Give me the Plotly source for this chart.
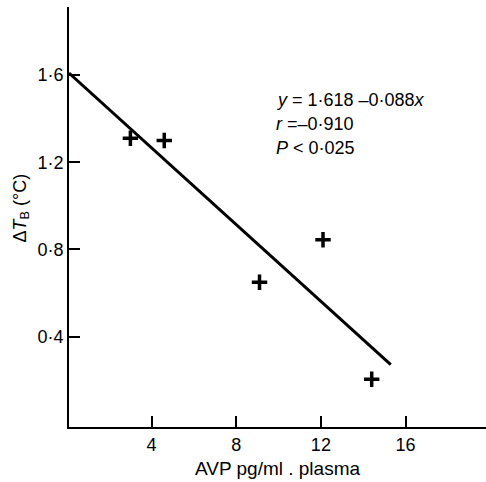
import plotly.graph_objects as go

# Data
avp = [3.0, 4.6, 9.1, 12.1, 14.4]
delta_tb = [1.31, 1.30, 0.65, 0.845, 0.205]

intercept = 1.618
slope = -0.088
line_x = [0.1, 15.3]
line_y = [intercept + slope * v for v in line_x]

x_ticks = [4, 8, 12, 16]
x_ticktext = ["4", "8", "12", "16"]
y_ticks = [0.4, 0.8, 1.2, 1.6]
y_ticktext = ["0·4", "0·8", "1·2", "1·6"]

font_family = "Liberation Sans, Arial, sans-serif"

fig = go.Figure()
fig.add_trace(go.Scatter(x=line_x, y=line_y, mode="lines",
                         line=dict(color="black", width=3), showlegend=False,
                         hoverinfo="skip"))
fig.add_trace(go.Scatter(x=avp, y=delta_tb, mode="markers",
                         marker=dict(symbol="cross-thin-open", size=11, color="black",
                                     line=dict(color="black", width=3.5)),
                         showlegend=False))

fig.update_layout(
    width=486, height=482,
    margin=dict(l=69, r=0, t=7, b=55),
    paper_bgcolor="white", plot_bgcolor="white",
    font=dict(family=font_family, size=18, color="black"),
    xaxis=dict(range=[0.1, 19.8], showline=True, linecolor="black", linewidth=2,
               showgrid=False, zeroline=False, ticks="inside", ticklen=11,
               tickwidth=2, tickcolor="black", tickvals=x_ticks,
               ticktext=x_ticktext, tickfont=dict(size=18),
               title=dict(text="AVP pg/ml . plasma", font=dict(size=19), standoff=8)),
    yaxis=dict(range=[-0.014, 1.912], showline=True, linecolor="black", linewidth=2,
               showgrid=False, zeroline=False, ticks="inside", ticklen=11,
               tickwidth=2, tickcolor="black", tickvals=y_ticks,
               ticktext=y_ticktext, tickfont=dict(size=18)),
)

fig.add_annotation(xref="paper", yref="paper", x=-69/417, y=(427-208)/420,
                   xanchor="left", yanchor="middle", xshift=8,
                   text="Δ<i>T</i><sub>B</sub> (°C)", textangle=-90, showarrow=False,
                   font=dict(size=18))

stats = ["<i>y</i> = 1·618 –0·088<i>x</i>", "<i>r</i> =–0·910", "<i>P</i> &lt; 0·025"]
for i, s in enumerate(stats):
    fig.add_annotation(xref="paper", yref="paper", x=(274-69)/417,
                       y=(427-(100 + 24 * i))/420, xanchor="left", yanchor="middle",
                       text=s, showarrow=False, font=dict(size=18))

fig.write_html("out.html")
